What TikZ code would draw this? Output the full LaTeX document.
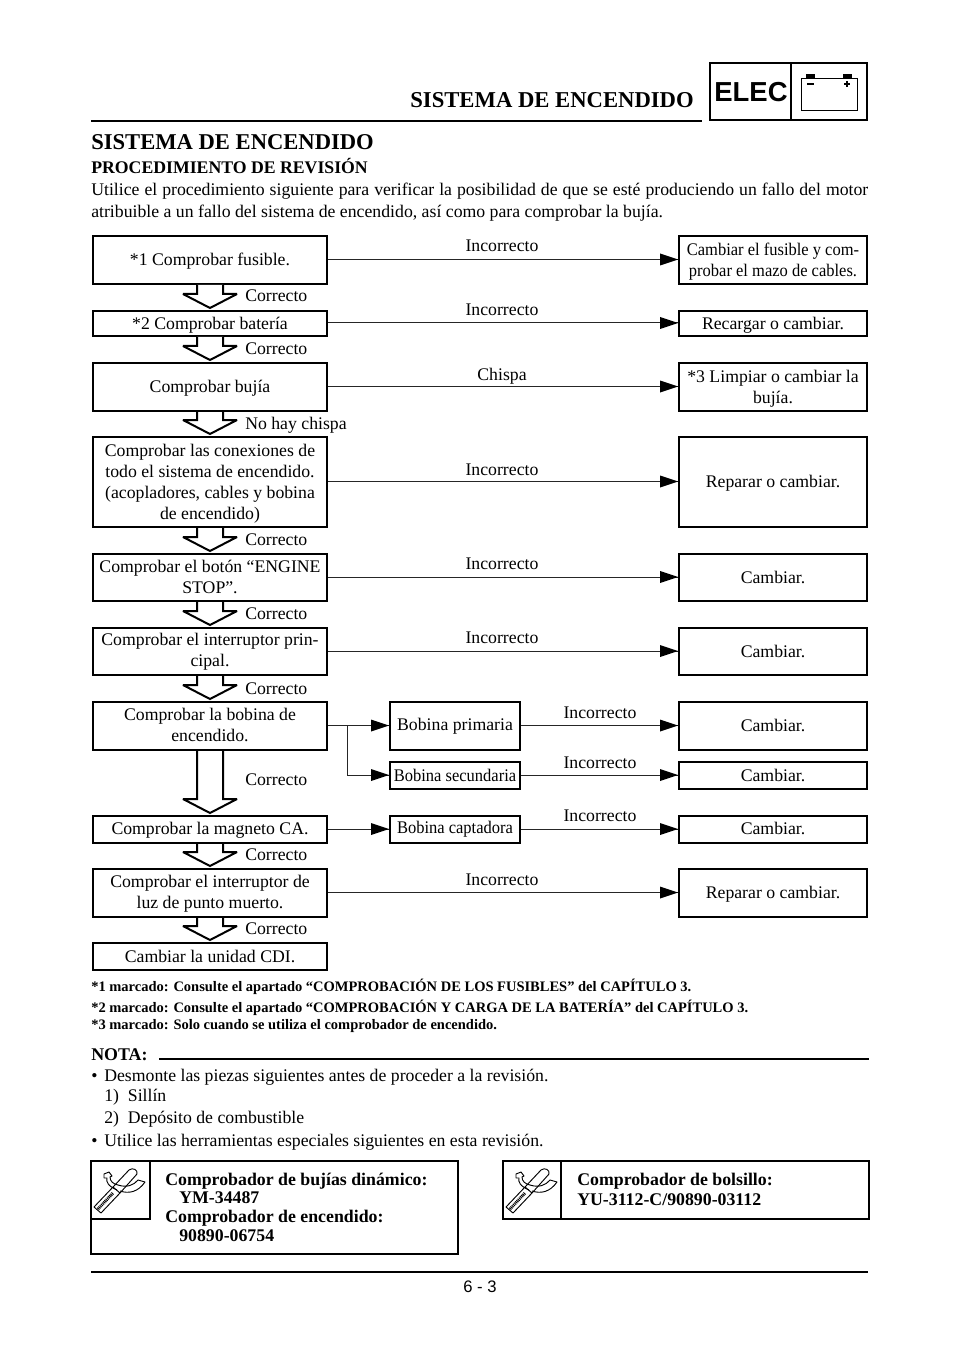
\documentclass[tikz,border=0pt]{standalone}
\usepackage{graphicx}
\usepackage{fontspec}
\setmainfont{Liberation Serif}
\newfontfamily\hdsans{Liberation Sans}
\usetikzlibrary{calc}
\tikzset{
  x=0.75pt,y=-0.75pt,
  bx/.style={draw=black,line width=1.5pt,inner sep=0pt,font=\fontsize{13.3pt}{15.8pt}\selectfont},
  lab/.style={inner sep=0pt,anchor=base,font=\fontsize{13.3pt}{15.8pt}\selectfont},
  okl/.style={inner sep=0pt,anchor=base west,font=\fontsize{13.3pt}{15.8pt}\selectfont},
  bodyt/.style={inner sep=0pt,anchor=base west,font=\fontsize{13.3pt}{15.8pt}\selectfont},
  foot/.style={inner sep=0pt,anchor=base west,font=\fontsize{10.87pt}{12pt}\selectfont\bfseries},
  tooltxt/.style={inner sep=0pt,anchor=base west,font=\fontsize{13.35pt}{15.8pt}\selectfont\bfseries},
  conn/.style={draw=black!85,line width=0.75pt},
  rulel/.style={line width=2.2pt},
  hollow/.style={draw=black,line width=1.5pt,fill=white,line join=miter,miter limit=2},
  tipf/.style={fill=black,draw=none},
  toolicon/.pic={
    \draw[line width=0.7pt,line join=round] (3,46)--(22,26)--(29,32)--(10,52)--cycle;
    \draw[line width=2.2pt,dash pattern=on 0.7pt off 0.6pt] (7,48)--(22,32);
    \draw[line width=0.7pt,line join=round] (22,26)--(38,9) .. controls (42,6) and (47,9) .. (46,13)--(29,32);
    \draw[line width=0.7pt,line join=round] (26,29) .. controls (17,25) and (15,21) .. (16,17) -- (13,17) -- (13,13) -- (18,11) -- (21,15) -- (19,16) .. controls (19,20) and (22,23) .. (27,24);
    \draw[line width=0.7pt,line join=round] (27,24) .. controls (36,27) and (43,24) .. (47,19) -- (54,21) .. controls (47,31) and (38,33) .. (29,30);
  }
}
% \harrow{from}{to}: hollow downward arrow between two boxes
\newcommand{\harrow}[2]{%
  \draw[hollow] ($(#1.south)+(-13,0)$) -- ($(#2.north)+(-13,-16)$) -- ($(#2.north)+(-27,-16)$) -- ($(#2.north)+(0,-2)$) -- ($(#2.north)+(27,-16)$) -- ($(#2.north)+(13,-16)$) -- ($(#1.south)+(13,0)$);}
% \arrowconn{from}{to}: horizontal line with solid tip
\newcommand{\arrowconn}[2]{%
  \draw[conn] ($(#1.east)+(0,-0.5)$) -- ($(#2.west)+(0,-0.5)$);
  \fill[tipf] ($(#2.west)+(0,-0.5)$) -- ++(-18,-6) -- ++(0,12) -- cycle;}
% box contents: lowered by #1 pt without changing the box's extents
\newcommand{\boxtxt}[2]{\raisebox{-#1pt}[\height][\depth]{\begin{tabular}{@{}c@{}}#2\end{tabular}}}
\newcommand{\lbox}[5][0]{\node[bx,minimum width=175.5pt,minimum height=#4*0.75pt] (#2) at (210,#3) {\boxtxt{#1}{#5}};}
\newcommand{\rbox}[5][0]{\node[bx,minimum width=141pt,minimum height=#4*0.75pt] (#2) at (773,#3) {\boxtxt{#1}{#5}};}
\newcommand{\cond}[1]{\scalebox{0.93}[1]{#1}}
\begin{document}
\begin{tikzpicture}
\useasboundingbox (0,0) rectangle (960,1358);
\fill[white] (0,0) rectangle (960,1358);

% header
\node[inner sep=0pt,anchor=base east,font=\fontsize{17pt}{18pt}\selectfont\bfseries] (hd) at (694,108) {SISTEMA DE ENCENDIDO};
\draw[rulel] (91,121) -- (702,121);
\node[draw=black,line width=1.5pt,minimum width=117.75pt,minimum height=42.75pt,inner sep=0pt] (elecbox) at (788.5,91.5) {};
\draw[line width=1.5pt] (791,63) -- (791,120);
\node[inner sep=0pt,font=\hdsans\fontsize{20.6pt}{22pt}\selectfont\bfseries] (elec) at (751,92.5) {ELEC};
\draw[line width=0.7pt] (801,78) rectangle (857,110);
\fill (806,74) rectangle (815,78);
\fill (843,74) rectangle (852,78);
\draw[line width=0.8pt] (807,84) -- (814,84);
\draw[line width=0.8pt] (844,84) -- (850,84) (847,81) -- (847,87);

% title
\node[inner sep=0pt,anchor=base west,font=\fontsize{16.95pt}{18pt}\selectfont\bfseries] (title) at (91,150) {SISTEMA DE ENCENDIDO};
\node[bodyt,font=\fontsize{13.3pt}{15pt}\selectfont\bfseries] (proc) at (91,174) {PROCEDIMIENTO DE REVISIÓN};
\node[bodyt] (par1) at (91,196) {\makebox[582.75pt][s]{Utilice el procedimiento siguiente para verificar la posibilidad de que se esté produciendo un fallo del motor}};
\node[bodyt] (par2) at (91,218) {atribuible a un fallo del sistema de encendido, así como para comprobar la bujía.};

% left column
\lbox[0.75]{a}{260}{48}{*1 Comprobar fusible.}
\lbox[1.5]{b}{323.5}{25}{*2 Comprobar batería}
\lbox[0.75]{c}{387}{48}{Comprobar bujía}
\lbox[1.5]{d}{482}{90}{Comprobar las conexiones de\\todo el sistema de encendido.\\(acopladores, cables y bobina\\de encendido)}
\lbox[1.1]{e}{577.5}{47}{Comprobar el botón “ENGINE\\STOP”.}
\lbox[0.4]{f}{651.5}{47}{Comprobar el interruptor prin-\\cipal.}
\lbox[0.4]{g}{726}{48}{Comprobar la bobina de\\encendido.}
\lbox[0.75]{h}{829.5}{27}{Comprobar la magneto CA.}
\lbox[0.75]{i}{893}{48}{Comprobar el interruptor de\\luz de punto muerto.}
\lbox[1.1]{j}{956.5}{27}{Cambiar la unidad CDI.}

% right column
\rbox[1]{ra}{260}{48}{\cond{Cambiar el fusible y com-}\\\cond{probar el mazo de cables.}}
\rbox[1.5]{rb}{323.5}{25}{Recargar o cambiar.}
\rbox[1.5]{rc}{387}{48}{*3 Limpiar o cambiar la\\bujía.}
\rbox[0.75]{rd}{482}{90}{Reparar o cambiar.}
\rbox[1.1]{re}{577.5}{47}{Cambiar.}
\rbox[1.1]{rf}{651.5}{47}{Cambiar.}
\rbox[0.75]{rg}{726}{48}{Cambiar.}
\rbox[1.1]{rs}{775.5}{27}{Cambiar.}
\rbox[0.75]{rh}{829.5}{27}{Cambiar.}
\rbox[0.75]{ri}{893}{48}{Reparar o cambiar.}

% middle column
\node[bx,minimum width=97.5pt,minimum height=36pt] (mp) at (455,726) {Bobina primaria};
\node[bx,minimum width=97.5pt,minimum height=20.25pt] (ms) at (455,775.5) {\cond{Bobina secundaria}};
\node[bx,minimum width=97.5pt,minimum height=20.25pt] (mc) at (455,829.5) {\cond{Bobina captadora}};

% hollow arrows
\harrow{a}{b}\harrow{b}{c}\harrow{c}{d}\harrow{d}{e}\harrow{e}{f}
\harrow{f}{g}\harrow{g}{h}\harrow{h}{i}\harrow{i}{j}

% connectors
\arrowconn{a}{ra}\arrowconn{b}{rb}\arrowconn{c}{rc}\arrowconn{d}{rd}
\arrowconn{e}{re}\arrowconn{f}{rf}\arrowconn{g}{mp}\arrowconn{mp}{rg}
\arrowconn{ms}{rs}\arrowconn{h}{mc}\arrowconn{mc}{rh}\arrowconn{i}{ri}
\coordinate (bend) at (347,725.5);
\draw[conn] (bend) |- ($(ms.west)+(0,-0.5)$);
\fill[tipf] ($(ms.west)+(0,-0.5)$) -- ++(-18,-6) -- ++(0,12) -- cycle;

% connector labels
\node[lab] (l1) at (502,252) {Incorrecto};
\node[lab] (l2) at (502,316) {Incorrecto};
\node[lab] (l3) at (502,380) {Chispa};
\node[lab] (l4) at (502,475) {Incorrecto};
\node[lab] (l5) at (502,569) {Incorrecto};
\node[lab] (l6) at (502,643) {Incorrecto};
\node[lab] (l7) at (600,718) {Incorrecto};
\node[lab] (l8) at (600,768) {Incorrecto};
\node[lab] (l9) at (600,821) {Incorrecto};
\node[lab] (l10) at (502,885) {Incorrecto};

\node[okl] (o1) at (245,302) {Correcto};
\node[okl] (o2) at (245,355) {Correcto};
\node[okl] (o3) at (245,429) {No hay chispa};
\node[okl] (o4) at (245,545) {Correcto};
\node[okl] (o5) at (245,619) {Correcto};
\node[okl] (o6) at (245,694) {Correcto};
\node[okl] (o7) at (245,785) {Correcto};
\node[okl] (o8) at (245,860) {Correcto};
\node[okl] (o9) at (245,934) {Correcto};

% footnotes
\node[foot] (f1) at (91,991) {*1 marcado: Consulte el apartado “COMPROBACIÓN DE LOS FUSIBLES” del CAPÍTULO 3.};
\node[foot] (f2) at (91,1012) {*2 marcado: Consulte el apartado “COMPROBACIÓN Y CARGA DE LA BATERÍA” del CAPÍTULO 3.};
\node[foot] (f3) at (91,1029) {*3 marcado: Solo cuando se utiliza el comprobador de encendido.};

% note
\node[bodyt,font=\fontsize{13.4pt}{15pt}\selectfont\bfseries] (nota) at (91,1060) {NOTA:};
\draw[rulel] (159,1059) -- (869,1059);
\node[bodyt] (n1b) at (91,1081) {•};
\node[bodyt] (n1) at (104,1081) {Desmonte las piezas siguientes antes de proceder a la revisión.};
\node[bodyt] (n2) at (104,1101) {1)~~Sillín};
\node[bodyt] (n3) at (104,1123) {2)~~Depósito de combustible};
\node[bodyt] (n4b) at (91,1146) {•};
\node[bodyt] (n4) at (104,1146) {Utilice las herramientas especiales siguientes en esta revisión.};

% tool boxes
\draw[line width=1.5pt] (91,1161) rectangle (458,1254);
\draw[line width=1.5pt] (91,1161) rectangle (150,1219);
\pic at (91,1161) {toolicon};
\node[tooltxt] (t1) at (165,1185) {Comprobador de bujías dinámico:};
\node[tooltxt] (t2) at (179,1203) {YM-34487};
\node[tooltxt] (t3) at (165,1222) {Comprobador de encendido:};
\node[tooltxt] (t4) at (179,1241) {90890-06754};
\draw[line width=1.5pt] (503,1161) rectangle (869,1219);
\draw[line width=1.5pt] (503,1161) rectangle (561,1219);
\pic at (503,1161) {toolicon};
\node[tooltxt] (t5) at (577,1185) {Comprobador de bolsillo:};
\node[tooltxt] (t6) at (577,1205) {YU-3112-C/90890-03112};

% footer
\draw[rulel] (91,1272) -- (868,1272);
\node[inner sep=0pt,anchor=base,font=\hdsans\fontsize{12.5pt}{14pt}\selectfont] (pg) at (480,1292) {6 - 3};
\end{tikzpicture}
\end{document}
